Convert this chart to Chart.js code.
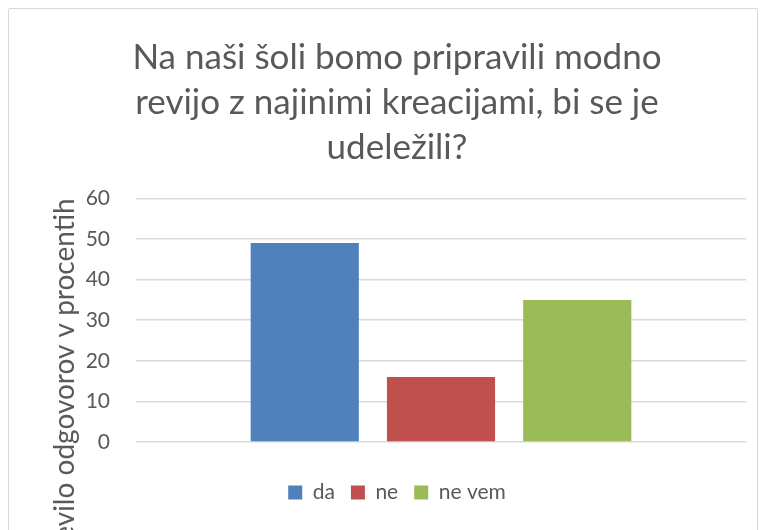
<!DOCTYPE html>
<html>
<head>
<meta charset="utf-8">
<script src="https://cdn.jsdelivr.net/npm/chart.js@4/dist/chart.umd.min.js"></script>
<style>
  html, body { margin: 0; padding: 0; background: #fff; overflow: hidden; }
  #wrap { position: relative; width: 766px; height: 530px; }
  #frame {
    position: absolute; left: 8px; top: 8px; width: 748px; height: 600px;
    border: 1.5px solid #d9d9d9; border-radius: 2px;
  }
  #chart { position: absolute; left: 0; top: 0; }
</style>
</head>
<body>
<div id="wrap">
  <div id="frame"></div>
  <canvas id="chart" width="766" height="530"></canvas>
</div>
<script>
// Podatki ankete
const seriesNames = ["da", "ne", "ne vem"];
const seriesValues = [49, 16, 35];
const seriesColors = ["#4F81BD", "#C0504D", "#9BBB59"];
const categories = [""];
const yTickMin = 0;
const yTickMax = 60;
const yTickStep = 10;

const titleLines = [
    "Na naši šoli bomo pripravili modno",
    "revijo z najinimi kreacijami, bi se je",
    "udeležili?"
];
const yAxisTitle = "Število odgovorov v procentih";

const textColor = "#595959";
const gridColor = "#d9d9d9";
const fontFamily = "Lato, 'Open Sans', sans-serif";

const datasets = [];
for (let i = 0; i < seriesNames.length; i++) {
    datasets.push({
        label: seriesNames[i],
        data: [seriesValues[i]],
        backgroundColor: seriesColors[i],
        borderWidth: 0,
        categoryPercentage: 0.67,
        barPercentage: 0.794
    });
}

const ctx = document.getElementById("chart").getContext("2d");
const chart = new Chart(ctx, {
    type: "bar",
    data: {
        labels: categories,
        datasets: datasets
    },
    options: {
        responsive: false,
        animation: false,
        layout: {
            padding: { left: 48, right: 20, top: 0, bottom: 17 }
        },
        plugins: {
            title: {
                display: true,
                text: titleLines,
                color: textColor,
                font: { family: fontFamily, size: 35, weight: "normal", lineHeight: 1.29 },
                padding: { top: 35, bottom: 28 }
            },
            legend: {
                position: "bottom",
                labels: {
                    color: textColor,
                    font: { family: fontFamily, size: 21 },
                    boxWidth: 14,
                    boxHeight: 14,
                    padding: 16
                }
            },
            tooltip: { enabled: false }
        },
        scales: {
            x: {
                grid: { display: false },
                border: { display: false },
                ticks: { display: false },
                afterFit: function (scale) {
                    scale.height = 24; // room between plot and legend
                }
            },
            y: {
                min: yTickMin,
                max: yTickMax,
                ticks: {
                    stepSize: yTickStep,
                    color: textColor,
                    font: { family: fontFamily, size: 21 },
                    padding: 26
                },
                grid: {
                    color: gridColor,
                    lineWidth: 1.5,
                    drawTicks: false
                },
                border: { display: false },
                title: {
                    display: true,
                    text: yAxisTitle,
                    align: "end",
                    color: textColor,
                    font: { family: fontFamily, size: 28 },
                    padding: 0
                },
                afterFit: function (scale) {
                    scale.width = 88;
                }
            }
        }
    }
});
</script>
</body>
</html>
